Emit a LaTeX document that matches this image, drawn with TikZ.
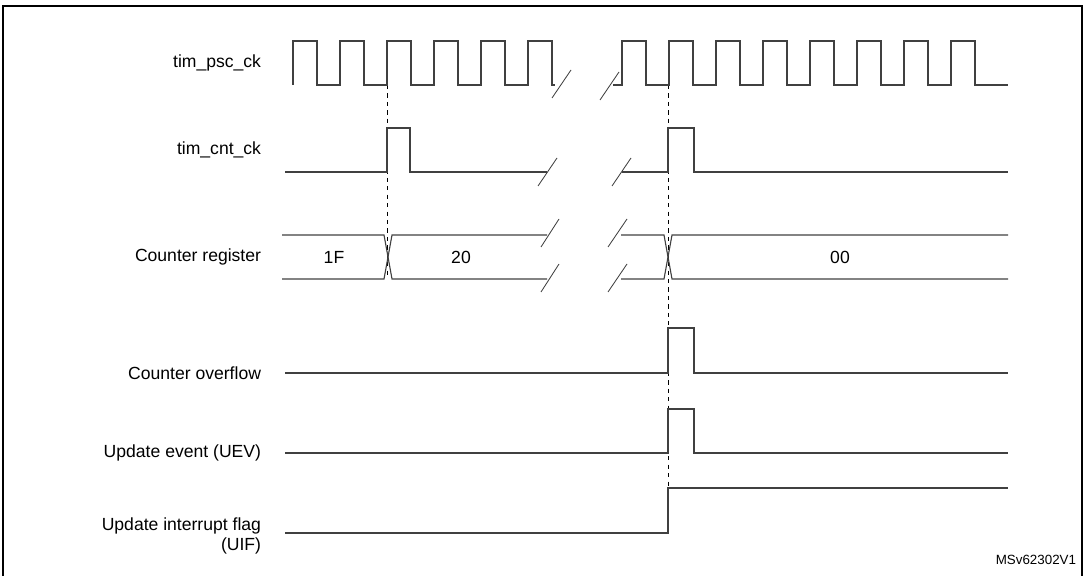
\documentclass[tikz,border=0pt]{standalone}
\usepackage{fontspec}
\setmainfont{Liberation Sans}
\usetikzlibrary{positioning}

\begin{document}
\begin{tikzpicture}[
    x=0.025cm, y=-0.025cm,
    sig/.style={draw=black!75, line width=0.8pt},
    label/.style={anchor=east, align=right, font=\fontsize{12.5}{14}\selectfont},
    val/.style={font=\fontsize{12.5}{14}\selectfont},
    brk/.style={draw=black!75, line width=0.6pt},
    guide/.style={dashed, line width=0.5pt}
]
    \useasboundingbox (0,0) rectangle (1085,576);

    % Frame
    \draw[line width=0.8pt] (3,576) -- (3,6) -- (1082,6) -- (1082,576);
    \draw[line width=1.6pt] (3,6) -- (1082,6);

    % Labels
    \node[label] (lpsc) at (266,63) {tim\_psc\_ck};
    \node[label] (lcnt) at (266,150) {tim\_cnt\_ck};
    \node[label] (lreg) at (266,257) {Counter register};
    \node[label] (lovf) at (266,373) {Counter overflow};
    \node[label] (luev) at (266,453) {Update event (UEV)};
    \node[label] (luif) at (266,536) {Update interrupt flag\\(UIF)};
    \node[anchor=east, font=\fontsize{9.5}{10}\selectfont] (ref) at (1081,560) {MSv62302V1};

    % Guides
    \draw[guide] (387,85) -- (387,279);
    \draw[guide] (668,85) -- (668,488);

    % tim_psc_ck
    \draw[sig] (293,85)
        \foreach \x in {293,340,387,434,481,528} { -- (\x,85) -- (\x,41) -- (\x+24,41) -- (\x+24,85) } -- (555,85);
    \draw[sig] (613,85)
        \foreach \x in {622,669,716,763,810,857,904,951} { -- (\x,85) -- (\x,41) -- (\x+24,41) -- (\x+24,85) } -- (1008,85);
    \draw[brk] (552,98) -- (571,70);
    \draw[brk] (600,100) -- (619,72);

    % tim_cnt_ck
    \draw[sig] (285,172) -- (387,172) -- (387,128) -- (410,128) -- (410,172) -- (547,172);
    \draw[sig] (622,172) -- (668,172) -- (668,128) -- (694,128) -- (694,172) -- (1008,172);
    \draw[brk] (538,186) -- (557,158);
    \draw[brk] (612,186) -- (631,158);

    % Counter register
    \draw[sig] (282,235) -- (384,235) -- (392,279) -- (547,279);
    \draw[sig] (282,279) -- (384,279) -- (392,235) -- (547,235);
    \draw[sig] (621,235) -- (664,235) -- (672,279) -- (1008,279);
    \draw[sig] (621,279) -- (664,279) -- (672,235) -- (1008,235);
    \draw[brk] (541,247) -- (559,219);
    \draw[brk] (541,292) -- (559,264);
    \draw[brk] (608,247) -- (627,219);
    \draw[brk] (608,292) -- (627,264);
    \node[val] (v1f) at (334,257) {1F};
    \node[val] (v20) at (461,257) {20};
    \node[val] (v00) at (840,257) {00};

    % Counter overflow
    \draw[sig] (285,373) -- (668,373) -- (668,328) -- (694,328) -- (694,373) -- (1008,373);

    % Update event
    \draw[sig] (285,453) -- (668,453) -- (668,409) -- (694,409) -- (694,453) -- (1008,453);

    % Update interrupt flag
    \draw[sig] (285,533) -- (668,533) -- (668,488) -- (1008,488);

\end{tikzpicture}
\end{document}
